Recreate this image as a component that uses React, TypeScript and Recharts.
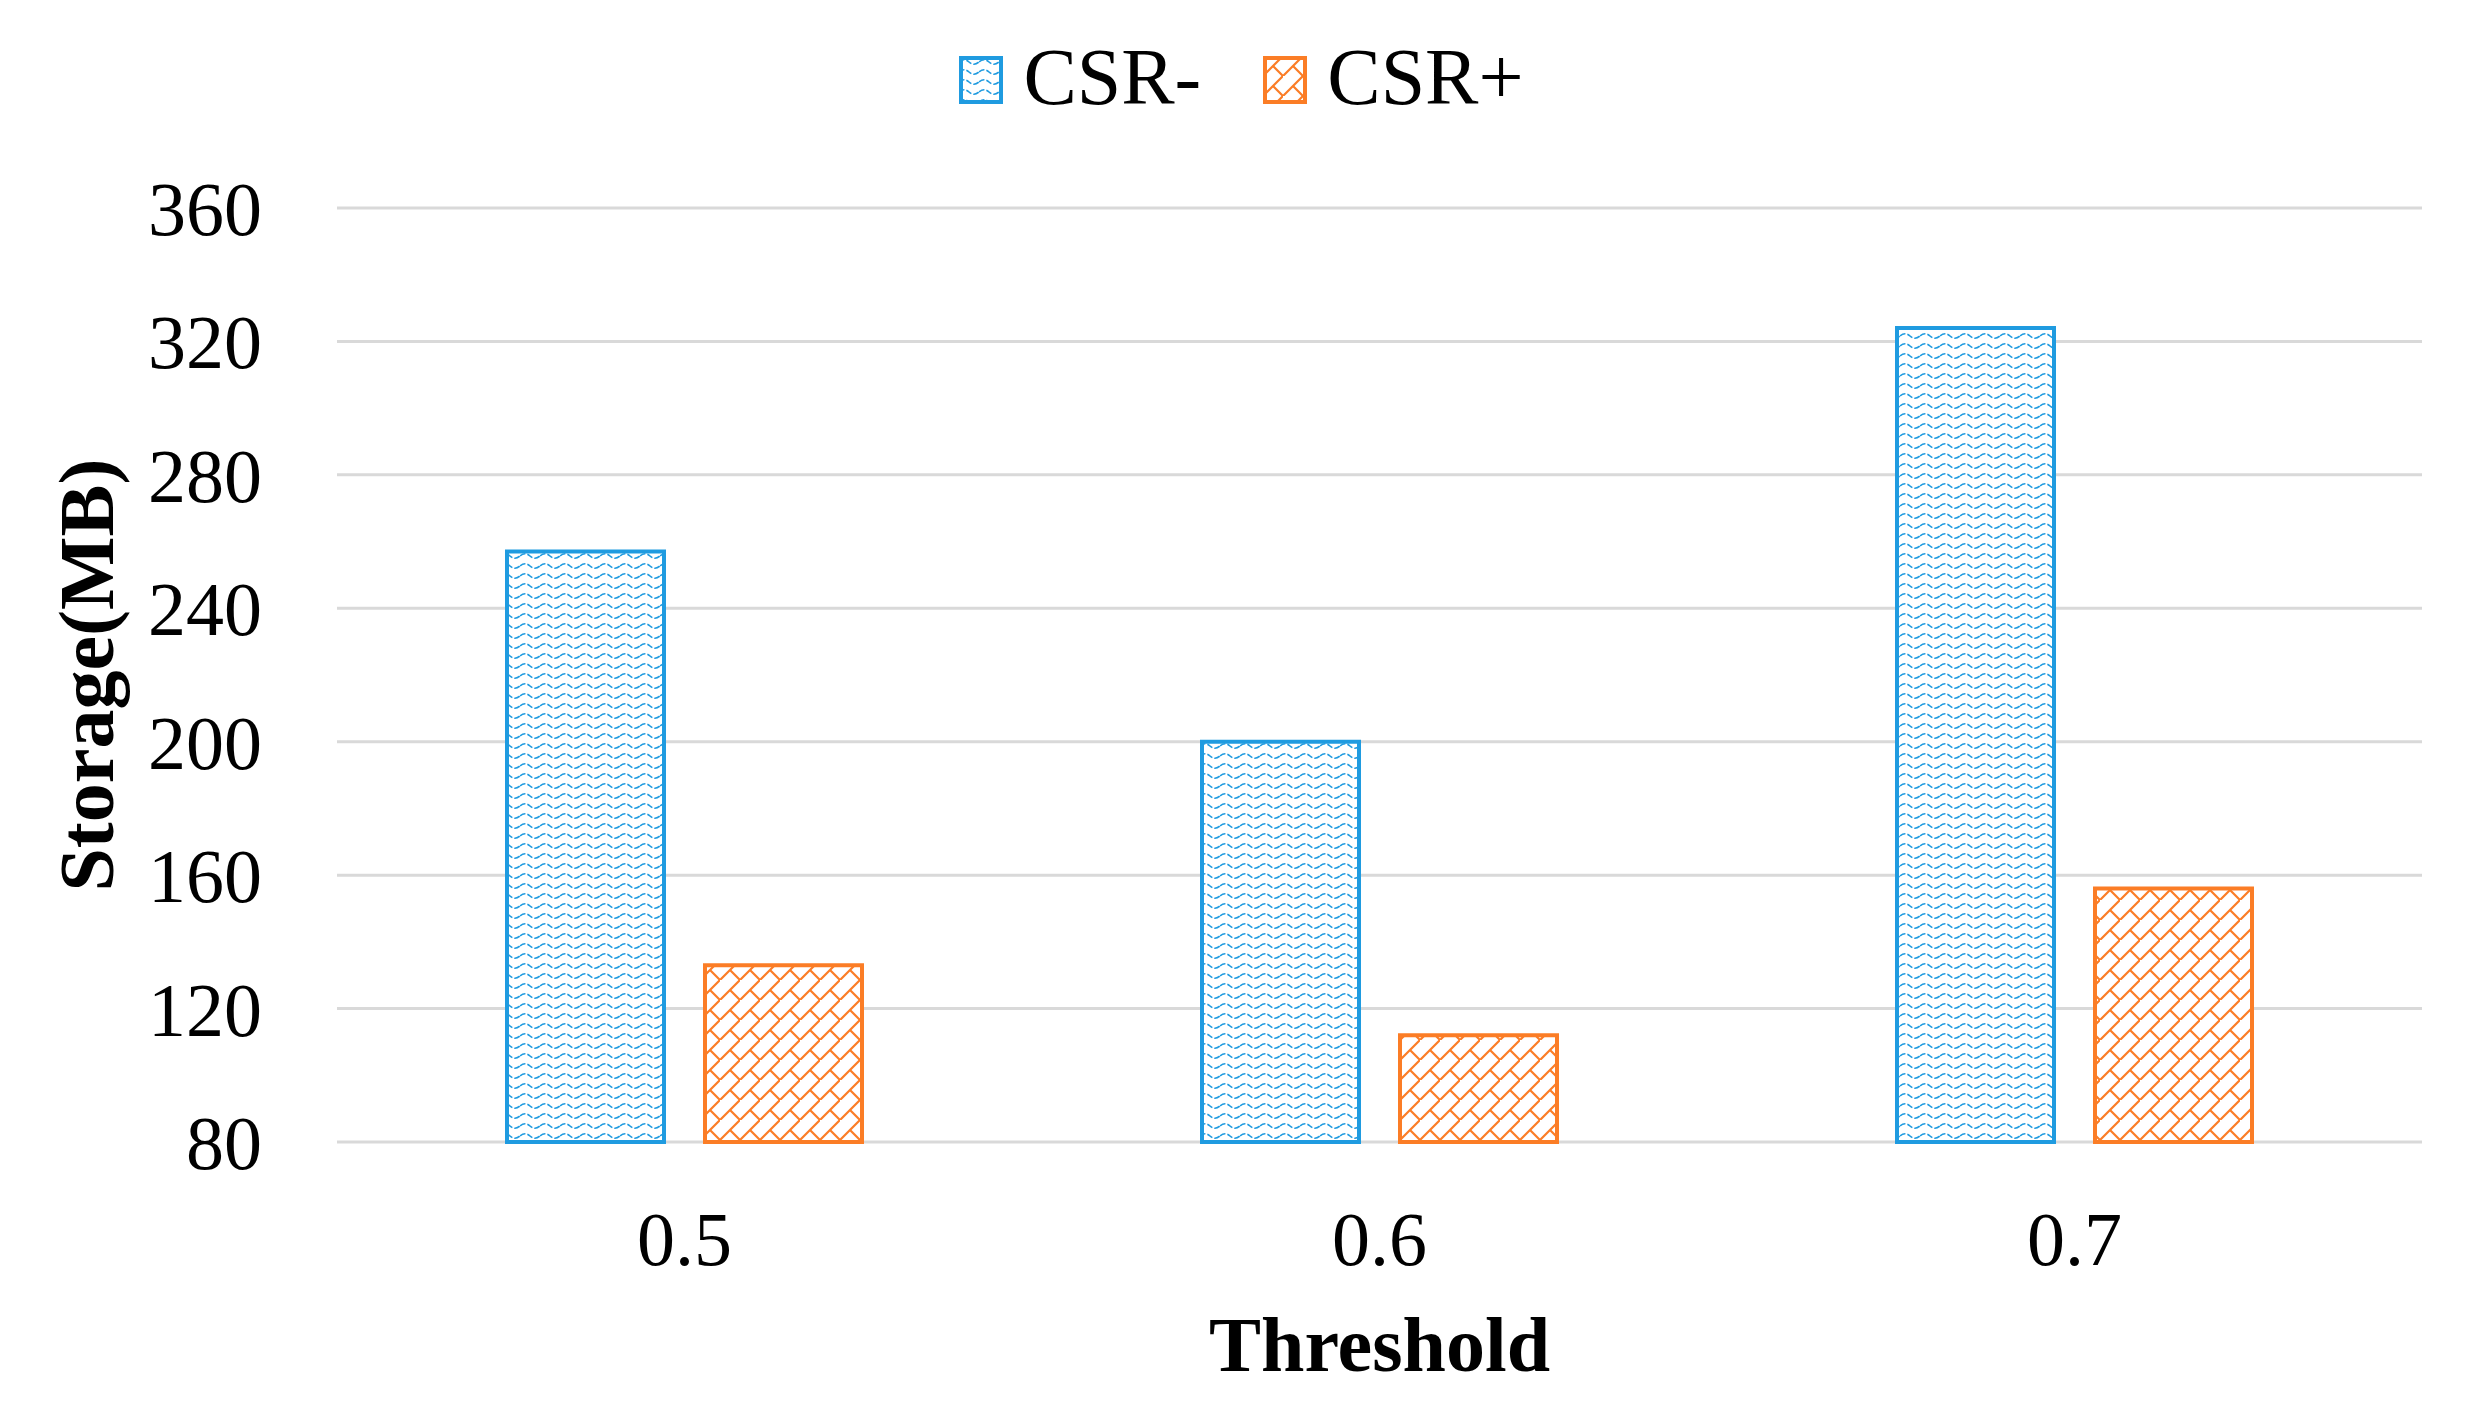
import React from 'react';
import { BarChart, Bar, XAxis, YAxis, CartesianGrid, Legend, Label } from 'recharts';

const thresholds = ['0.5', '0.6', '0.7'];
const csrMinus = [257, 200, 324];
const csrPlus = [133, 112, 156];
const yTicks = [80, 120, 160, 200, 240, 280, 320, 360];
const seriesNames = ['CSR-', 'CSR+'];

const BLUE = '#1f9be0';
const ORANGE = '#fb7d26';
const FONT = '"Liberation Serif", "DejaVu Serif", serif';

const data = thresholds.map((t, i) => ({ threshold: t, minus: csrMinus[i], plus: csrPlus[i] }));

function PatternDefs({ prefix }: { prefix: string }) {
  return (
    <defs>
      <pattern id={`${prefix}-wave`} patternUnits="userSpaceOnUse" width={20} height={10}>
        <rect width={20} height={10} fill="#fff" />
        <path d="M0 6 Q5 1.5 10 6 T20 6" fill="none" stroke={BLUE} strokeWidth={1.6} strokeDasharray="6 2" />
      </pattern>
      <pattern id={`${prefix}-brick`} patternUnits="userSpaceOnUse" width={20} height={20}>
        <rect width={20} height={20} fill="#fff" />
        <path d="M-2 22 L22 -2 M10 10 L22 22" fill="none" stroke={ORANGE} strokeWidth={2.2} />
      </pattern>
    </defs>
  );
}

function LegendContent() {
  const fills = ['url(#lg-wave)', 'url(#lg-brick)'];
  const strokes = [BLUE, ORANGE];
  return (
    <div style={{ height: 150, boxSizing: 'border-box', paddingLeft: 6 }}>
      <div
        style={{
          height: 50,
          position: 'relative',
          top: -3,
          display: 'flex',
          justifyContent: 'center',
          alignItems: 'center',
        }}
      >
        {seriesNames.map((name, i) => (
          <div key={name} style={{ display: 'flex', alignItems: 'center', marginRight: i === 0 ? 62 : 0 }}>
            <svg width={44} height={48} style={{ display: 'block' }}>
              {i === 0 && <PatternDefs prefix="lg" />}
              <rect x={2} y={2} width={40} height={44} fill={fills[i]} stroke={strokes[i]} strokeWidth={4} />
            </svg>
            <span
              style={{
                marginLeft: 20,
                fontFamily: FONT,
                fontSize: 80,
                lineHeight: '50px',
                color: '#000',
                position: 'relative',
                top: -3,
              }}
            >
              {name}
            </span>
          </div>
        ))}
      </div>
    </div>
  );
}

export default function App() {
  return (
    <div style={{ position: 'absolute', left: 0, top: 0, width: 2477, height: 1419, background: '#fff' }}>
      <BarChart
        width={2477}
        height={1419}
        data={data}
        margin={{ top: 58, right: 55, left: 0, bottom: 0 }}
        barGap={41}
        style={{ fontFamily: FONT }}
      >
        <PatternDefs prefix="c" />
        <Legend
          verticalAlign="top"
          content={<LegendContent />}
          wrapperStyle={{ left: 0, width: 2477 }}
        />
        <CartesianGrid vertical={false} stroke="#d9d9d9" strokeWidth={3} />
        <XAxis
          dataKey="threshold"
          height={277}
          axisLine={false}
          tickLine={false}
          tickSize={0}
          tickMargin={69}
          tick={{ fontSize: 76, fill: '#000', fontFamily: FONT }}
        >
          <Label
            value="Threshold"
            position="insideBottom"
            offset={48}
            style={{ fontSize: 78, fontWeight: 'bold', fill: '#000', fontFamily: FONT }}
          />
        </XAxis>
        <YAxis
          width={337}
          domain={[80, 360]}
          ticks={yTicks}
          axisLine={false}
          tickLine={false}
          tickSize={0}
          tickMargin={75}
          tick={{ fontSize: 76, fill: '#000', fontFamily: FONT }}
        >
          <Label
            value="Storage(MB)"
            angle={-90}
            position="insideLeft"
            offset={85}
            style={{ fontSize: 78, fontWeight: 'bold', fill: '#000', fontFamily: FONT, textAnchor: 'middle' }}
          />
        </YAxis>
        <Bar
          dataKey="minus"
          name={seriesNames[0]}
          fill="url(#c-wave)"
          stroke={BLUE}
          strokeWidth={4}
          barSize={157}
          isAnimationActive={false}
        />
        <Bar
          dataKey="plus"
          name={seriesNames[1]}
          fill="url(#c-brick)"
          stroke={ORANGE}
          strokeWidth={4}
          barSize={157}
          isAnimationActive={false}
        />
      </BarChart>
    </div>
  );
}
